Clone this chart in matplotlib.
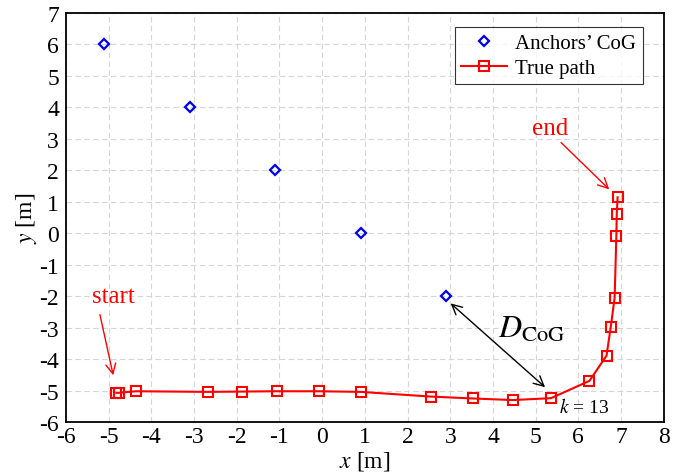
import matplotlib
matplotlib.use("Agg")
import matplotlib.pyplot as plt

plt.rcParams['font.family'] = ['Liberation Serif', 'DejaVu Serif']
plt.rcParams['mathtext.fontset'] = 'stix'
plt.rcParams['axes.unicode_minus'] = False

# centres of gravity of the anchors
cog_x = [-5.1, -3.1, -1.1, 0.9, 2.9]
cog_y = [6.0, 4.0, 2.0, 0.0, -2.0]

# true path of the target
path_x = [-4.82, -4.77, -4.36, -2.68, -1.88, -1.07, -0.08, 0.90, 2.55, 3.54,
          4.46, 5.36, 6.26, 6.66, 6.76, 6.85, 6.89, 6.90, 6.92]
path_y = [-5.07, -5.07, -5.02, -5.04, -5.03, -5.02, -5.02, -5.04, -5.19, -5.25,
          -5.30, -5.24, -4.69, -3.89, -2.97, -2.05, -0.10, 0.61, 1.14]

fig = plt.figure(figsize=(6.95, 4.77), dpi=100)
ax = fig.add_axes([0.095, 0.113, 0.86, 0.858])

ax.plot(cog_x, cog_y, linestyle='none', marker='D', markersize=5.5,
        markerfacecolor='none', markeredgecolor='#0000ee', markeredgewidth=1.6,
        label='Anchors\u2019 CoG', zorder=3)
ax.plot(path_x, path_y, color='red', lw=1.5, marker='s', markersize=7,
        markerfacecolor='none', markeredgecolor='red', markeredgewidth=1.5,
        label='True path', zorder=3)

ax.set_xlim(-6, 8)
ax.set_ylim(-6, 7)
ax.set_xticks(range(-6, 9))
ax.set_yticks(range(-6, 8))
ax.tick_params(labelsize=17, direction='in', length=0)
ax.tick_params(axis='x', pad=3)
ax.tick_params(axis='y', pad=5)
ax.grid(True, color='#d6d6d6', linestyle=(0, (5, 3)), lw=0.8)
for s in ax.spines.values():
    s.set_linewidth(1.3)
ax.set_xlabel('$x$ [m]', fontsize=17, labelpad=1)
ax.set_ylabel('$y$ [m]', fontsize=17, labelpad=0)

# annotations
ax.annotate('', xy=(-4.88, -4.6), xytext=(-5.22, -2.5),
            arrowprops=dict(arrowstyle='->', color='red', lw=1.0,
                            mutation_scale=18))
ax.text(-4.9, -2.0, 'start', color='red', fontsize=18, ha='center', va='center')
ax.annotate('', xy=(6.77, 1.33), xytext=(5.55, 2.94),
            arrowprops=dict(arrowstyle='->', color='red', lw=1.0,
                            mutation_scale=18))
ax.text(5.35, 3.35, 'end', color='red', fontsize=18, ha='center', va='center')
ax.annotate('', xy=(5.27, -4.95), xytext=(2.96, -2.17),
            arrowprops=dict(arrowstyle='<->', color='black', lw=1.0,
                            mutation_scale=18))
ax.text(4.9, -3.05, r'$D_{\mathrm{CoG}}$', fontsize=23, ha='center', va='center')
ax.text(5.55, -5.52, r'$k$ = 13', fontsize=14, ha='left', va='center')

leg = ax.legend(loc='upper right', fontsize=15, frameon=True, fancybox=False,
                edgecolor='black', borderpad=0.3, handlelength=2.2,
                handletextpad=0.4, labelspacing=0.25,
                bbox_to_anchor=(0.982, 0.99))
leg.get_frame().set_linewidth(0.8)

fig.savefig('out.png', dpi=100)
